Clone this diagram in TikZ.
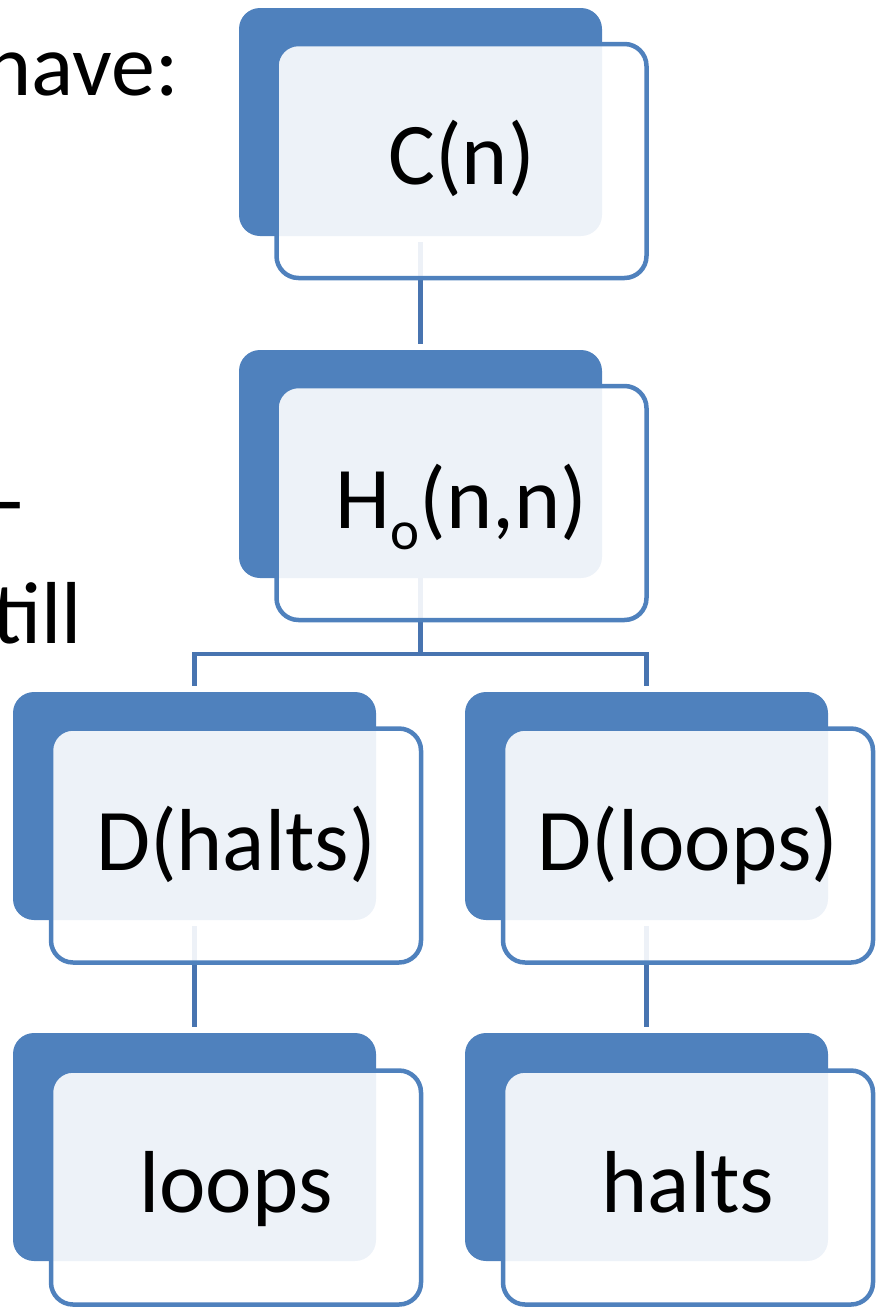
\documentclass[tikz,border=0pt]{standalone}
\usepackage{fontspec}
\setmainfont{Carlito}
\definecolor{accent}{HTML}{4F81BD}
\definecolor{linkc}{HTML}{4874B0}
\begin{document}
\begin{tikzpicture}[x=1pt,y=-1pt,
  backbox/.style={rectangle, rounded corners=21pt, fill=accent, draw=none,
    minimum width=363pt, minimum height=228pt, inner sep=0pt},
  frontbox/.style={rectangle, rounded corners=22pt, fill=white, fill opacity=0.9,
    draw=accent, draw opacity=1, line width=4.5pt,
    minimum width=370pt, minimum height=234pt, inner sep=0pt},
  label/.style={anchor=base, inner sep=0pt, font=\fontsize{88}{100}\selectfont},
  sidetext/.style={anchor=base east, inner sep=0pt, font=\fontsize{88}{100}\selectfont},
  conn/.style={draw=linkc, line width=4.5pt}
]
\useasboundingbox (0,0) rectangle (883,1312);
\clip (0,0) rectangle (883,1312);

% side text (cut off at the left edge)
\node[sidetext] (t1) at (179,95) {have:};
\node[sidetext] (t2) at (24,530) {-};
\node[sidetext] (t3) at (82,643) {till};

% coordinates of back boxes
\coordinate (pc) at (420.5,122);
\coordinate (ph) at (420.5,464);
\coordinate (pdh) at (194.5,806);
\coordinate (pdl) at (646.5,806);
\coordinate (plo) at (194.5,1147);
\coordinate (pha) at (646.5,1147);

% back boxes
\node[backbox] (cB) at (pc) {};
\node[backbox] (hB) at (ph) {};
\node[backbox] (dhB) at (pdh) {};
\node[backbox] (dlB) at (pdl) {};
\node[backbox] (loB) at (plo) {};
\node[backbox] (haB) at (pha) {};

% connectors (under the translucent front boxes)
\coordinate (fork) at (420.5,654);
\draw[conn, shorten <=6pt, shorten >=6pt] (cB.south) -- (hB.north);
\draw[conn] (hB.south) -- (fork);
\draw[conn, shorten >=6pt] (fork) -| (dhB.north);
\draw[conn, shorten >=6pt] (fork) -| (dlB.north);
\draw[conn, shorten <=6pt, shorten >=6pt] (dhB.south) -- (loB.north);
\draw[conn, shorten <=6pt, shorten >=6pt] (dlB.south) -- (haB.north);

% front boxes
\node[frontbox] (cF) at ([shift={(41,39)}]pc) {};
\node[frontbox] (hF) at ([shift={(41,39)}]ph) {};
\node[frontbox] (dhF) at ([shift={(41.5,39.5)}]pdh) {};
\node[frontbox] (dlF) at ([shift={(41.5,39.5)}]pdl) {};
\node[frontbox] (loF) at ([shift={(41.5,40.5)}]plo) {};
\node[frontbox] (haF) at ([shift={(41.5,40.5)}]pha) {};

% labels
\node[label] (c) at ([yshift=-23pt]cF.center) {C(n)};
\node[label] (h) at ([yshift=-25pt]hF.center) {H\raisebox{-21pt}{\fontsize{55}{60}\selectfont o}(n,n)};
\node[label] (dh) at ([yshift=-24.5pt]dhF.center) {D(halts)};
\node[label] (dl) at ([yshift=-24.5pt]dlF.center) {D(loops)};
\node[label] (lo) at ([yshift=-24.5pt]loF.center) {loops};
\node[label] (ha) at ([yshift=-24.5pt]haF.center) {halts};
\end{tikzpicture}
\end{document}
